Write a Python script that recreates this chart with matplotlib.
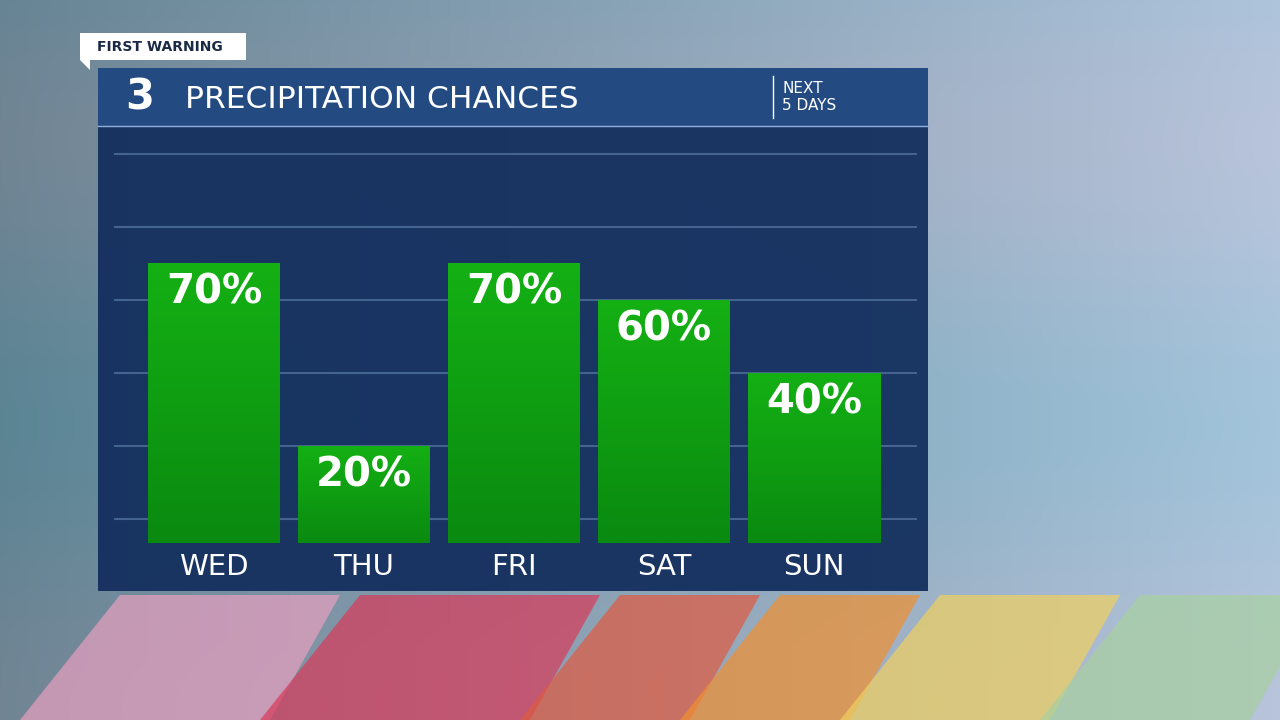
import numpy as np
import matplotlib.pyplot as plt
from matplotlib.patches import Rectangle, Polygon
from matplotlib.colors import LinearSegmentedColormap

days = ["WED", "THU", "FRI", "SAT", "SUN"]
chances = [70, 20, 70, 60, 40]
grid_levels = [0, 20, 40, 60, 80, 100]

fig = plt.figure(figsize=(12.8, 7.2), dpi=100)

# background: rainy blue-grey gradient
bg = fig.add_axes([0, 0, 1, 1])
bg.set_xlim(0, 1280)
bg.set_ylim(720, 0)
bg.axis("off")
yy, xx = np.mgrid[0:720, 0:1280]
r = 0.40 + 0.28 * (xx / 1280) + 0.04 * np.sin(yy / 90.0)
g = 0.52 + 0.25 * (xx / 1280)
b = 0.58 + 0.28 * (xx / 1280)
img = np.dstack([r, g, b]).clip(0, 1)
bg.imshow(img, extent=[0, 1280, 720, 0], aspect="auto")
# umbrella colours at the bottom
umb = [("#e8a0c0", 60, 300), ("#d83a5a", 300, 560), ("#e05a40", 560, 720),
       ("#f09030", 720, 880), ("#f0d060", 880, 1080), ("#a8d0a0", 1080, 1280)]
for col, x0, x1 in umb:
    bg.add_patch(Polygon([[x0 + 60, 595], [x1 + 40, 595], [x1 - 30, 720], [x0 - 40, 720]],
                         color=col, alpha=0.7, lw=0))

# panel
bg.add_patch(Rectangle((98, 126), 830, 465, color="#142f5e", alpha=0.95, lw=0))
bg.add_patch(Rectangle((98, 68), 830, 58, color="#234b82", lw=0))
bg.plot([98, 928], [126, 126], color="#8fb0d8", lw=1)
bg.plot([773, 773], [76, 118], color="white", lw=1)
bg.text(185, 99, "PRECIPITATION CHANCES", color="white", fontsize=22.5,
        family="DejaVu Sans", va="center")
bg.text(782, 97, "NEXT\n5 DAYS", color="white", fontsize=11,
        family="DejaVu Sans", va="center", linespacing=1.15)
bg.text(140, 97, "3", color="white", fontsize=30, family="DejaVu Sans",
        weight="bold", va="center", ha="center")

# FIRST WARNING tag
bg.add_patch(Polygon([[80, 33], [246, 33], [246, 60], [90, 60], [90, 70], [80, 60]],
                     color="white", lw=0))
bg.text(97, 47, "FIRST WARNING", color="#1b2a44", fontsize=10,
        family="DejaVu Sans", weight="bold", va="center")

# chart axes: x centre spacing 150px, y 3.65px per %
ax = fig.add_axes([98 / 1280, (720 - 590) / 720, 830 / 1280, 464 / 720])
ax.set_xlim((98 - 214) / 150, (928 - 214) / 150)
ax.set_ylim((519 - 590) / 3.65, (519 - 126) / 3.65)
ax.axis("off")
ax.patch.set_alpha(0)

for lvl in grid_levels:
    ax.plot([(115 - 214) / 150, (916 - 214) / 150], [lvl, lvl],
            color="#44638f", lw=1.5, zorder=1)

base = -24 / 3.65
w = 132 / 150
grad = np.linspace(1, 0, 100).reshape(-1, 1)
cmap = LinearSegmentedColormap.from_list("g", ["#0a8a10", "#14b014"])
for i, (d, v) in enumerate(zip(days, chances)):
    ax.imshow(grad, extent=[i - w / 2, i + w / 2, base, v], cmap=cmap,
              aspect="auto", zorder=2, vmin=0, vmax=1)
    ax.text(i, v - 8, f"{v}%", color="white", fontsize=29, family="DejaVu Sans",
            weight="bold", ha="center", va="center", zorder=3)
    ax.text(i, base - 6.5, d, color="white", fontsize=21, family="DejaVu Sans",
            ha="center", va="center", zorder=3)

fig.savefig("out.png", dpi=100)
